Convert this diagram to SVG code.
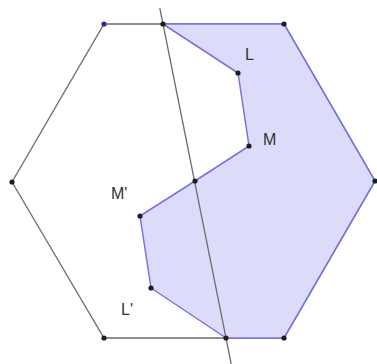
<svg xmlns="http://www.w3.org/2000/svg" width="377" height="364" viewBox="0 0 377 364">
<style>
.hex{fill:none;stroke:#6e6e6e;stroke-width:1.3}
.shade{fill:#dcdcfa;stroke:#7474e0;stroke-width:1.5;stroke-linejoin:round}
.axis{fill:none;stroke:#6e6e6e;stroke-width:1.3}
.pt{fill:#1e1e1e}
.lbl{font-family:"Liberation Sans",Arial,sans-serif;font-size:16px;fill:#333}
</style>
<rect width="377" height="364" fill="#ffffff"/>
<g id="hexagon">
<polygon class="hex" points="104,24 284,24 375,181 284,338 104,338 12,182"/>
</g>
<g id="shaded-region">
<polygon class="shade" points="163,24 238,73 249,146 195,181 140,216 151,288 226,338 284,338 375,181 284,24"/>
</g>
<g id="connectors">
<line class="axis" x1="159.8" y1="8" x2="231.2" y2="364"/>
</g>
<g id="points">
<circle class="pt" cx="104" cy="24" r="2.6" fill="#2a2a9a" style="fill:#2a2a9a"/>
<circle class="pt" cx="163" cy="24" r="2.6"/>
<circle class="pt" cx="284" cy="24" r="2.6"/>
<circle class="pt" cx="375" cy="181" r="2.6"/>
<circle class="pt" cx="284" cy="338" r="2.6"/>
<circle class="pt" cx="226" cy="338" r="2.6"/>
<circle class="pt" cx="104" cy="338" r="2.6"/>
<circle class="pt" cx="12" cy="182" r="2.6"/>
<circle class="pt" cx="195" cy="181" r="2.6"/>
</g>
<g id="L"><circle class="pt" cx="238" cy="73" r="2.6"/><text class="lbl" x="245" y="60">L</text></g>
<g id="M"><circle class="pt" cx="249" cy="146" r="2.6"/><text class="lbl" x="263" y="145">M</text></g>
<g id="M-prime"><circle class="pt" cx="140" cy="216" r="2.6"/><text class="lbl" x="111" y="199">M'</text></g>
<g id="L-prime"><circle class="pt" cx="151" cy="288" r="2.6"/><text class="lbl" x="121" y="315">L'</text></g>
</svg>
